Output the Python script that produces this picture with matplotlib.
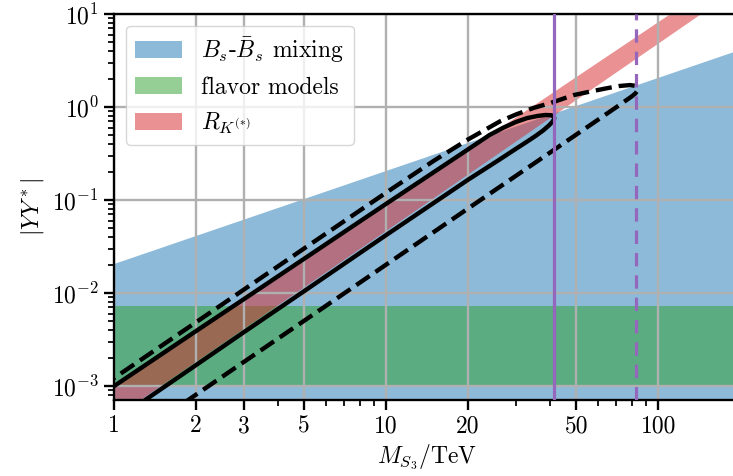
import matplotlib

matplotlib.use("Agg")

import matplotlib.pyplot as plt
from matplotlib.ticker import FixedLocator, LogLocator, NullFormatter

# scale factor for line widths / tick sizes (figure is drawn at 100 dpi)
S = 2.1

plt.rcParams.update(
    {
        "font.family": "serif",
        "font.serif": ["cmr10"],
        "mathtext.fontset": "cm",
        "axes.unicode_minus": False,
        "axes.formatter.use_mathtext": True,
        "font.size": 17,
        "axes.linewidth": 0.8 * S,
        "xtick.major.size": 3.5 * S,
        "ytick.major.size": 3.5 * S,
        "xtick.minor.size": 2.0 * S,
        "ytick.minor.size": 2.0 * S,
        "xtick.major.width": 0.8 * S,
        "ytick.major.width": 0.8 * S,
        "xtick.minor.width": 0.6 * S,
        "ytick.minor.width": 0.6 * S,
        "grid.linewidth": 0.8 * S,
        "lines.linewidth": 1.5 * S,
    }
)

# mass range and axis limits
M_RANGE = [1.0, 200.0]
Y_LIM = [7.1e-4, 10.0]
Y_FLOOR = 1e-5

# B_s mixing allowed region (upper edge)
bs_upper = [0.0205, 4.1]

# flavor models band
flavor_lo = [1.0e-3, 1.0e-3]
flavor_hi = [7.3e-3, 7.3e-3]

# R_K(*) band
rk_lo = [4.6e-4, 19.7]
rk_hi = [1.0e-3, 32.3]

# solid contour (upper branch then lower branch back)
solid_m = [0.9, 1.0, 2.0, 3.0, 5.0, 10.0, 15.0, 20.0, 24.0, 27.0, 30.0, 33.0,
           36.0, 38.5, 40.5, 41.3, 41.5,
           41.4, 40.8, 39.6, 37.8, 35.5, 33.0, 30.0, 26.0, 20.0, 10.0, 5.0, 3.0, 2.0, 1.32, 1.2]
solid_y = [8.1e-4, 1.0e-3, 3.9e-3, 8.6e-3, 0.0234, 0.091, 0.20, 0.35, 0.50, 0.60, 0.69, 0.76,
           0.80, 0.82, 0.815, 0.79, 0.76,
           0.735, 0.69, 0.63, 0.56, 0.49, 0.425, 0.355, 0.27, 0.165, 0.042, 0.0105, 3.8e-3, 1.68e-3, 7.3e-4, 6.0e-4]

# dashed contour (upper branch then lower branch back)
dashed_m = [0.9, 1.0, 2.0, 3.0, 5.0, 10.0, 15.0, 19.8, 26.2, 30.0, 34.8, 40.1, 48.8, 56.0,
            64.8, 72.0, 78.9, 82.0, 83.4, 83.7,
            83.6, 82.5, 80.0, 76.0, 70.0, 60.0, 50.0, 40.0, 30.0, 20.0, 10.0, 5.0, 3.0, 1.9, 1.7]
dashed_y = [9.9e-4, 1.22e-3, 4.85e-3, 0.0109, 0.0302, 0.12, 0.265, 0.44, 0.70, 0.83, 0.976, 1.10, 1.34, 1.46,
            1.59, 1.68, 1.72, 1.69, 1.62, 1.53,
            1.48, 1.40, 1.30, 1.17, 0.99, 0.727, 0.505, 0.323, 0.182, 0.081, 0.0202, 5.05e-3, 1.82e-3, 7.3e-4, 5.8e-4]

# mass limits (vertical lines)
m_limit_solid = 41.5
m_limit_dashed = 83.0

x_ticks = [1, 2, 3, 5, 10, 20, 50, 100]
x_ticklabels = ["1", "2", "3", "5", "10", "20", "50", "100"]
x_minor = [4, 6, 7, 8, 9, 30, 40, 60, 70, 80, 90, 200]

fig = plt.figure(figsize=(7.331, 4.761), dpi=100)
ax = fig.add_axes([114 / 733, 76 / 476, 626 / 733, 386 / 476])

ax.fill_between(M_RANGE, [Y_FLOOR, Y_FLOOR], bs_upper, color="tab:blue", alpha=0.5,
                linewidth=0, label=r"$B_s$-$\bar{B}_s$ mixing")
ax.fill_between(M_RANGE, flavor_lo, flavor_hi, color="tab:green", alpha=0.5,
                linewidth=0, label="flavor models")
ax.fill_between(M_RANGE, rk_lo, rk_hi, color="tab:red", alpha=0.5,
                linewidth=0, label=r"$R_{K^{(*)}}$")

ax.plot(solid_m, solid_y, color="black", linestyle="-", zorder=3)
ax.plot(dashed_m, dashed_y, color="black", linestyle="--", zorder=3)

ax.axvline(m_limit_solid, color="tab:purple", linestyle="-", linewidth=2.3, zorder=4)
ax.axvline(m_limit_dashed, color="tab:purple", linestyle=(0, (4.2, 2.8)), linewidth=2.3, zorder=4)

ax.set_xscale("log")
ax.set_yscale("log")
ax.set_xlim(*M_RANGE)
ax.set_ylim(*Y_LIM)

ax.xaxis.set_major_locator(FixedLocator(x_ticks))
ax.set_xticklabels(x_ticklabels)
ax.xaxis.set_minor_locator(FixedLocator(x_minor))
ax.xaxis.set_minor_formatter(NullFormatter())
ax.yaxis.set_major_locator(LogLocator(base=10, numticks=20))
ax.yaxis.set_minor_locator(LogLocator(base=10, subs=range(2, 10), numticks=20))
ax.yaxis.set_minor_formatter(NullFormatter())

ax.grid(True, which="major")

ax.set_xlabel(r"$M_{S_3}/\mathrm{TeV}$")
ax.set_ylabel(r"$|YY^*|$")

ax.legend(loc="upper left")

fig.savefig("out.png", dpi=100)
